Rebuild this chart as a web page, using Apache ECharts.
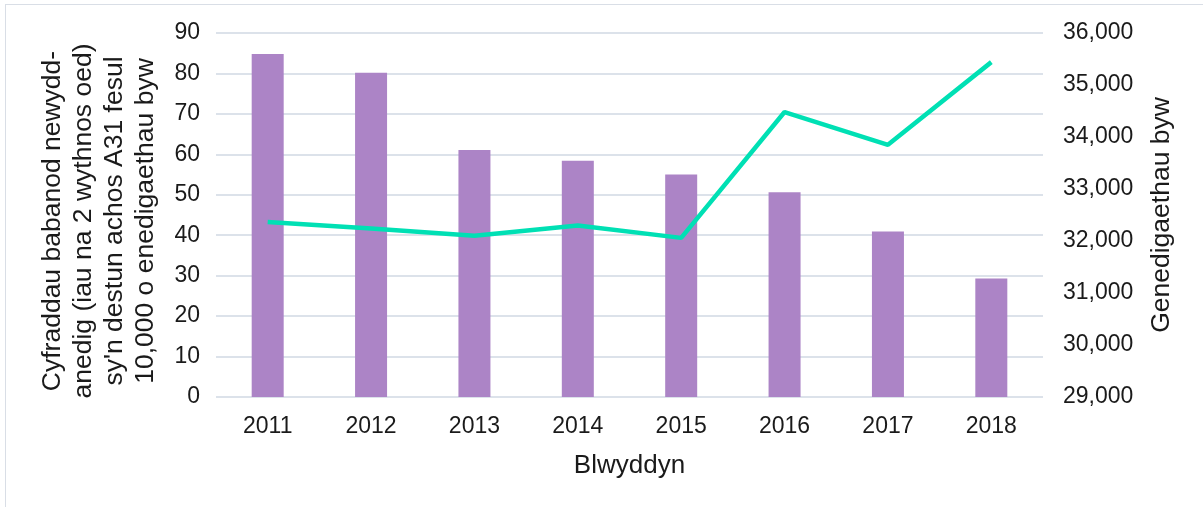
<!DOCTYPE html>
<html>
<head>
<meta charset="utf-8">
<script src="https://cdn.jsdelivr.net/npm/echarts@6/dist/echarts.min.js"></script>
<style>
  html, body { margin: 0; padding: 0; background: #fff; }
  #frame {
    position: absolute;
    left: 5px;
    top: 4px;
    width: 1220px;
    height: 520px;
    border: 1px solid #d9dee6;
  }
  #main {
    position: absolute;
    left: 0;
    top: 0;
    width: 1203px;
    height: 507px;
  }
</style>
</head>
<body>
<div id="frame"></div>
<div id="main"></div>
<script>
// data
const years = ['2011', '2012', '2013', '2014', '2015', '2016', '2017', '2018']
const rates = [84.8, 80.2, 61.1, 58.4, 55.0, 50.6, 40.9, 29.3]
const births = [32365, 32240, 32100, 32300, 32060, 34480, 33850, 35440]

const font = '"Liberation Sans", Arial, sans-serif'
const textColor = '#1a1a1a'

const myChart = echarts.init(document.getElementById('main'))

const option = {
  animation: false,
  textStyle: { fontFamily: font },
  grid: {
    left: 216,
    right: 160,
    top: 33,
    bottom: 110
  },
  xAxis: {
    type: 'category',
    data: years,
    name: 'Blwyddyn',
    nameLocation: 'middle',
    nameGap: 56,
    nameTextStyle: { fontSize: 26, color: textColor, fontFamily: font },
    axisLine: { show: false },
    axisTick: { show: false },
    axisLabel: { fontSize: 23, color: textColor, margin: 18, fontFamily: font }
  },
  yAxis: [
    {
      type: 'value',
      min: 0,
      max: 90,
      interval: 10,
      name: 'Cyfraddau babanod newydd-\nanedig (iau na 2 wythnos oed)\nsy\'n destun achos A31 fesul\n10,000 o enedigaethau byw',
      nameLocation: 'middle',
      nameRotate: 90,
      nameGap: 55,
      nameTextStyle: {
        fontSize: 26.5,
        lineHeight: 31,
        color: textColor,
        fontFamily: font,
        align: 'center',
        padding: [0, 12, 0, 0]
      },
      axisLine: { show: false },
      axisTick: { show: false },
      axisLabel: { fontSize: 23, color: textColor, margin: 16, fontFamily: font },
      splitLine: { lineStyle: { color: '#dce2ea', width: 2 } }
    },
    {
      type: 'value',
      min: 29000,
      max: 36000,
      interval: 1000,
      position: 'right',
      name: 'Genedigaethau byw',
      nameLocation: 'middle',
      nameRotate: 90,
      nameGap: 105,
      nameTextStyle: { fontSize: 26.5, color: textColor, fontFamily: font },
      axisLine: { show: false },
      axisTick: { show: false },
      axisLabel: {
        fontSize: 23,
        color: textColor,
        margin: 20,
        fontFamily: font,
        formatter: v => v.toLocaleString('en-US')
      },
      splitLine: { show: false }
    }
  ],
  series: [
    {
      type: 'bar',
      data: rates,
      barWidth: 32,
      itemStyle: { color: '#ac84c6' }
    },
    {
      type: 'line',
      yAxisIndex: 1,
      data: births,
      showSymbol: false,
      symbol: 'none',
      lineStyle: { color: '#00e0b4', width: 4.5 },
      z: 3
    }
  ]
}
myChart.setOption(option)
</script>
</body>
</html>
